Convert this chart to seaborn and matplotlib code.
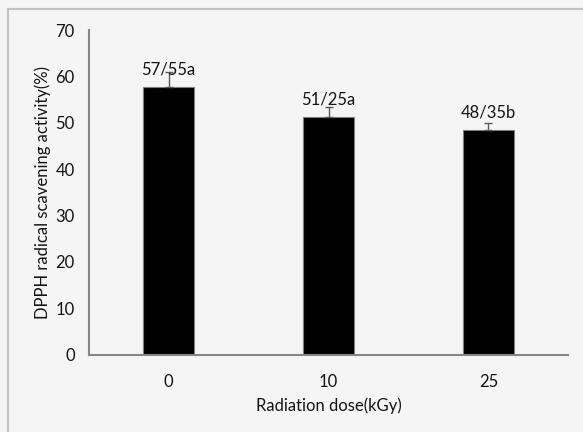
import pandas as pd
import numpy as np
import seaborn as sns
import matplotlib.pyplot as plt
from matplotlib.patches import Rectangle

sns.set_style("white")
plt.rcParams['font.family'] = ['Lato', 'DejaVu Sans']

doses = ["0", "10", "25"]
activity = [57.7, 51.35, 48.45]
errors = [3.3, 2.0, 1.6]
labels = ["57/55a", "51/25a", "48/35b"]

df = pd.DataFrame({"dose": doses, "activity": activity})

bg = "#f5f5f5"
txt = "#141414"
fs = 12
fig = plt.figure(figsize=(5.83, 4.32), dpi=100, facecolor=bg)
# outer frame like the spreadsheet chart area
fig.patches.append(Rectangle((7.5/583, -0.1), 1.2, 1 - 8.5/432 + 0.1, transform=fig.transFigure,
                             fill=False, edgecolor="#c3c3c3", linewidth=1.5))
ax = fig.add_axes([88.7/583, 1-354.7/432, (568.3-88.7)/583, (354.7-30)/432])
ax.set_facecolor(bg)

sns.barplot(data=df, x="dose", y="activity", ax=ax, color="black", width=0.32,
            edgecolor="#7f7f7f", linewidth=0.8, errorbar=None, saturation=1)
xs = np.arange(len(doses))
ax.errorbar(xs, activity, yerr=[np.zeros(3), errors], fmt="none", ecolor="#595959",
            elinewidth=1, capsize=3, capthick=1)
for x, v, lab in zip(xs, activity, labels):
    ax.text(x, v + 3.7, lab, ha="center", va="center", fontsize=fs, color=txt)

ax.set_xlim(-0.5, 2.5)
ax.set_ylim(0, 70)
ax.set_yticks(range(0, 71, 10))
ax.set_xticks([-0.5, 0.5, 1.5, 2.5], minor=True)
ax.tick_params(axis="x", which="major", length=0, pad=14, labelsize=fs, labelcolor=txt)
ax.tick_params(axis="x", which="minor", length=6, width=1.5, color="#868686", direction="out")
ax.tick_params(axis="y", length=0, pad=10, labelsize=fs, labelcolor=txt)

for s in ["top", "right"]:
    ax.spines[s].set_visible(False)
for s in ["left", "bottom"]:
    ax.spines[s].set_color("#868686")
    ax.spines[s].set_linewidth(1.5)

ax.set_xlabel("Radiation dose(kGy)", fontsize=fs, color=txt, labelpad=5)
ax.set_ylabel("DPPH radical scavening activity(%)", fontsize=fs, color=txt, labelpad=3)

plt.savefig("out.png", dpi=100, facecolor=bg)
